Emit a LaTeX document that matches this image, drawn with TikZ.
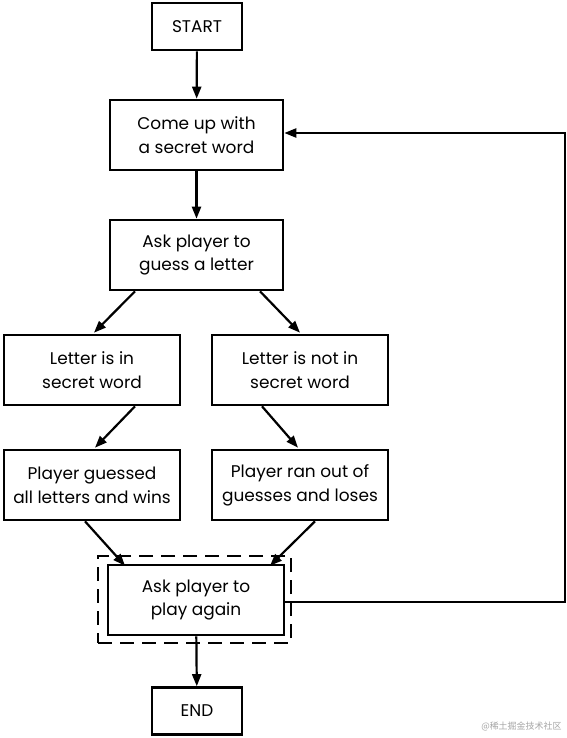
\documentclass[tikz,border=0pt]{standalone}
\usepackage{fontspec}
\setmainfont{Poppins}
\newfontfamily\cjk{Noto Sans CJK SC}
\usetikzlibrary{arrows.meta}
\begin{document}
\begin{tikzpicture}[x=1bp,y=-1bp,
  box/.style={draw,line width=2.6bp,minimum width=173bp,minimum height=70bp,align=center,inner sep=0pt,font=\fontsize{17}{24}\selectfont},
  smallbox/.style={box,minimum width=90bp,minimum height=47bp},
  arr/.style={line width=2.2bp,-{Triangle[length=12bp,width=9bp]}}]
\useasboundingbox (0,0) rectangle (567,738);
\fill[white] (0,0) rectangle (567,738);
\node[smallbox] (start) at (197,26.5) {START};
\node[box] (come) at (196.5,135) {Come up with\\a secret word};
\node[box] (guess) at (196.5,255) {Ask player to\\guess a letter};
\node[box,minimum width=176bp] (in) at (92,370) {Letter is in\\secret word};
\node[box,minimum width=176bp] (notin) at (300,370) {Letter is not in\\secret word};
\node[box,minimum width=176bp] (won) at (92,485) {Player guessed\\all letters and wins};
\node[box,minimum width=176bp] (lost) at (300,485) {Player ran out of\\guesses and loses};
\node[box,minimum width=176bp] (again) at (196,600) {Ask player to\\play again};
\node[draw,line width=2.2bp,dash pattern=on 14bp off 8bp,minimum width=193bp,minimum height=87bp,inner sep=0pt] (dash) at (194.5,599.5) {};
\node[smallbox] (end) at (197,711) {END};
\coordinate (c1) at (565,602);
\coordinate (c2) at (565,133);
\draw[arr] (start) -- (come);
\draw[arr] (come) -- (guess);
\draw[arr] ([xshift=-61.5bp]guess.south) -- ([xshift=2bp,yshift=1bp]in.north);
\draw[arr] ([xshift=63.5bp]guess.south) -- ([yshift=1bp]notin.north);
\draw[arr] ([xshift=43bp]in.south) -- ([xshift=3bp,yshift=1bp]won.north);
\draw[arr] ([xshift=-38bp]notin.south) -- ([xshift=-2bp,yshift=1bp]lost.north);
\draw[arr] ([xshift=-7bp]won.south) -- ([xshift=-71bp,yshift=-2bp]again.north);
\draw[arr] ([xshift=15bp]lost.south) -- ([xshift=74bp,yshift=-2bp]again.north);
\draw[arr] (again) -- (end);
\draw[arr] (again.east |- c1) -- (c1) -- (c2) -- (come.east |- c2);
\node[font=\cjk\fontsize{9}{10}\selectfont,text=black!35,anchor=east] (wm) at (565,726) {@稀土掘金技术社区};
\end{tikzpicture}
\end{document}
